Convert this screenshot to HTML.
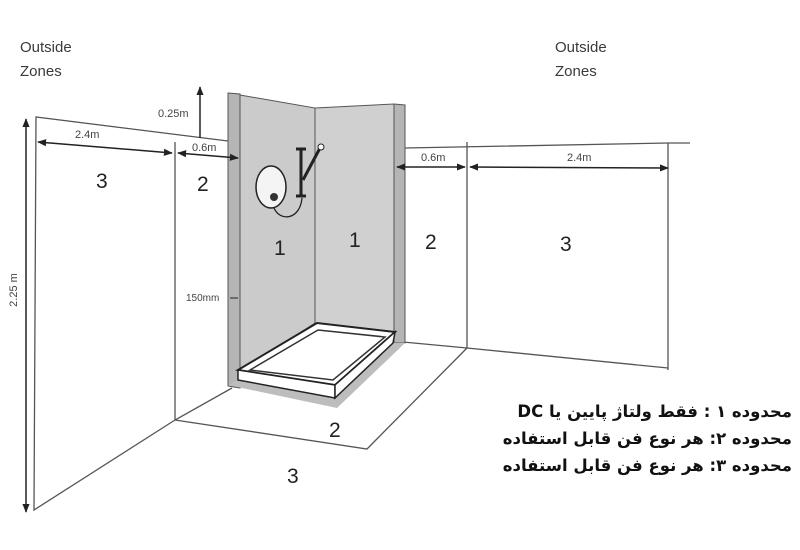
<!DOCTYPE html>
<html><head><meta charset="utf-8"><style>
html,body{margin:0;padding:0;background:#fff;width:800px;height:550px;overflow:hidden}
svg{display:block}
text{font-family:"Liberation Sans",sans-serif}
</style></head><body>
<svg width="800" height="550" viewBox="0 0 800 550" xmlns="http://www.w3.org/2000/svg">
<defs>
<marker id="a" viewBox="0 0 10 10" refX="9" refY="5" markerWidth="6" markerHeight="6" orient="auto-start-reverse"><path d="M0,1 L10,5 L0,9 z" fill="#222"/></marker>
</defs>
<g fill="#3a3a3a" font-size="15">
<text x="20" y="52">Outside</text><text x="20" y="76">Zones</text>
<text x="555" y="52">Outside</text><text x="555" y="76">Zones</text>
</g>
<g stroke="#555" stroke-width="1.3" fill="none">
<polyline points="228,141 36,117 34,510 175,420 232,388"/>
<line x1="175" y1="142" x2="175" y2="420"/>
<polyline points="405,148 668,143 690,143"/>
<line x1="467" y1="142" x2="467" y2="348"/>
<line x1="668" y1="143" x2="668" y2="370"/>
<polyline points="403,342 467,348 668,368"/>
<polyline points="175,420 367,449 467,348"/>
</g>
<polygon points="228,93 240,94 240,388 228,386" fill="#b5b5b5" stroke="#555"/>
<polygon points="240,95 315,108 315,323 240,372" fill="#cbcbcb" stroke="#555"/>
<polygon points="315,108 394,104 394,332 315,323" fill="#d0d0d0" stroke="#555"/>
<polygon points="394,104 405,105 405,343 394,343" fill="#b5b5b5" stroke="#555"/>
<polygon points="228,385 238,380 335,398 392,343 405,343 337,408" fill="#bdbdbd"/>
<polygon points="238,370 317,323 395,332 335,385" fill="#fff" stroke="#222" stroke-width="2"/>
<polygon points="250,370 318,330 385,337 333,380" fill="none" stroke="#333" stroke-width="1.5"/>
<polygon points="238,370 335,385 335,398 238,380" fill="#fff" stroke="#222" stroke-width="1.5"/>
<polygon points="335,385 395,332 393,343 335,398" fill="#fff" stroke="#222" stroke-width="1.5"/>
<ellipse cx="271" cy="187" rx="15" ry="21" fill="#f4f4f4" stroke="#222" stroke-width="1.5"/>
<circle cx="274" cy="197" r="4" fill="#333"/>
<path d="M274,208 C280,222 300,220 302,198" fill="none" stroke="#222" stroke-width="1.3"/>
<line x1="301" y1="150" x2="301" y2="196" stroke="#222" stroke-width="3"/>
<line x1="296" y1="149" x2="306" y2="149" stroke="#222" stroke-width="3"/>
<line x1="296" y1="196" x2="306" y2="196" stroke="#222" stroke-width="3"/>
<line x1="303" y1="180" x2="320" y2="148" stroke="#222" stroke-width="3"/>
<circle cx="321" cy="147" r="3" fill="#fff" stroke="#222"/>
<g stroke="#222" stroke-width="1.5" fill="none">
<line x1="38" y1="142" x2="172" y2="153" marker-start="url(#a)" marker-end="url(#a)"/>
<line x1="178" y1="153" x2="238" y2="158" marker-start="url(#a)" marker-end="url(#a)"/>
<line x1="200" y1="138" x2="200" y2="87" marker-end="url(#a)"/>
<line x1="26" y1="512" x2="26" y2="119" marker-start="url(#a)" marker-end="url(#a)"/>
<line x1="397" y1="167" x2="465" y2="167" marker-start="url(#a)" marker-end="url(#a)"/>
<line x1="470" y1="167" x2="668" y2="168" marker-start="url(#a)" marker-end="url(#a)"/>
<line x1="230" y1="298" x2="238" y2="298" stroke-width="1"/>
</g>
<g fill="#444" font-size="11">
<text x="75" y="138">2.4m</text>
<text x="192" y="151">0.6m</text>
<text x="158" y="117">0.25m</text>
<text x="186" y="301" font-size="10">150mm</text>
<text x="421" y="161">0.6m</text>
<text x="567" y="161">2.4m</text>
<text transform="translate(17,290) rotate(-90)" text-anchor="middle">2.25 m</text>
</g>
<g fill="#222" font-size="21">
<text x="96" y="188">3</text>
<text x="197" y="191">2</text>
<text x="274" y="255">1</text>
<text x="349" y="247">1</text>
<text x="425" y="249">2</text>
<text x="560" y="251">3</text>
<text x="329" y="437">2</text>
<text x="287" y="483">3</text>
</g>
<g fill="#111" font-size="16.5" font-weight="bold" direction="rtl">
<text x="792" y="417" style="font-family:'DejaVu Sans',sans-serif">محدوده ۱ : فقط ولتاژ پایین یا DC</text>
<text x="792" y="444" style="font-family:'DejaVu Sans',sans-serif">محدوده ۲: هر نوع فن قابل استفاده</text>
<text x="792" y="471" style="font-family:'DejaVu Sans',sans-serif">محدوده ۳: هر نوع فن قابل استفاده</text>
</g>
</svg>
</body></html>
